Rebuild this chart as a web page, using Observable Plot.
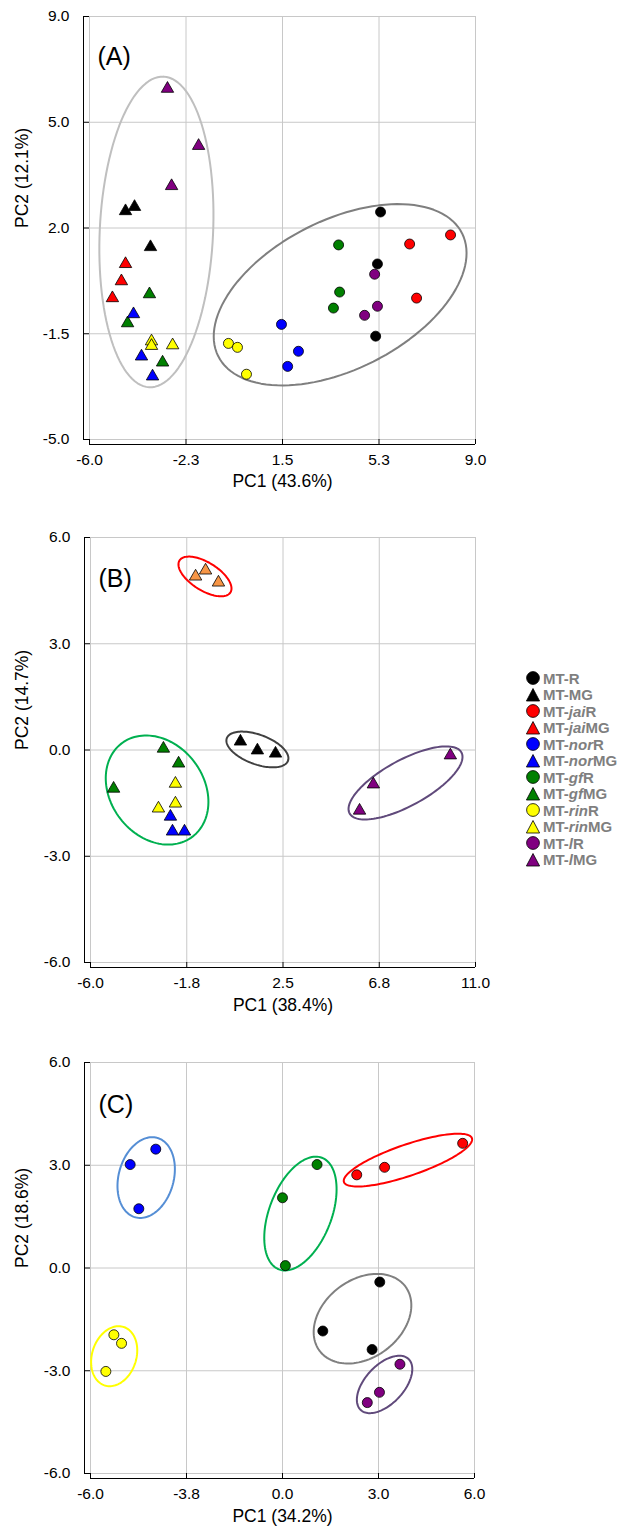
<!DOCTYPE html>
<html><head><meta charset="utf-8">
<script src="https://cdn.jsdelivr.net/npm/d3@7"></script>
<script src="https://cdn.jsdelivr.net/npm/@observablehq/plot@0.6"></script>
<style>
body{margin:0;background:#fff;}
#wrap{position:relative;width:619px;height:1532px;overflow:hidden;background:#fff;font-family:"Liberation Sans",Arial,sans-serif;}
.panel{position:absolute;left:0;}
.row{position:absolute;left:526px;height:16px;display:flex;align-items:center;font:bold 15px "Liberation Sans",Arial,sans-serif;color:#7f7f7f;white-space:nowrap;}
.row svg{margin-right:3px;flex:none;}
</style></head><body><div id="wrap"></div>
<script>
// ---------- legend ----------
const legendItalic = ["", "", "jai", "jai", "nor", "nor", "gf", "gf", "rin", "rin", "l", "l"];
const legendSuffix = ["R", "MG", "R", "MG", "R", "MG", "R", "MG", "R", "MG", "R", "MG"];
const legendShape = ["circle", "triangle", "circle", "triangle", "circle", "triangle", "circle", "triangle", "circle", "triangle", "circle", "triangle"];
const legendColor = ["#000000", "#000000", "#ff0000", "#ff0000", "#0000ff", "#0000ff", "#008000", "#008000", "#ffff00", "#ffff00", "#800080", "#800080"];

// ---------- panel A ----------
const aXTicks = [-6, -2.25, 1.5, 5.25, 9];
const aXLabels = ["-6.0", "-2.3", "1.5", "5.3", "9.0"];
const aYTicks = [-5, -1.5, 2, 5.5, 9];
const aYLabels = ["-5.0", "-1.5", "2.0", "5.0", "9.0"];
const aShape = ["triangle","triangle","triangle","triangle","triangle","triangle","triangle","triangle","triangle","triangle","triangle","triangle","triangle","triangle","triangle","triangle","triangle","triangle",
  "circle","circle","circle","circle","circle","circle","circle","circle","circle","circle","circle","circle","circle","circle","circle","circle","circle","circle"];
const aColor = ["#000000","#000000","#000000","#800080","#800080","#800080","#ff0000","#ff0000","#ff0000","#008000","#008000","#008000","#0000ff","#0000ff","#0000ff","#ffff00","#ffff00","#ffff00",
  "#000000","#000000","#000000","#ff0000","#ff0000","#ff0000","#008000","#008000","#008000","#800080","#800080","#800080","#0000ff","#0000ff","#0000ff","#ffff00","#ffff00","#ffff00"];
const aPC1 = [-4.60,-4.25,-3.63, -2.97,-1.76,-2.81, -4.60,-4.76,-5.11, -3.67,-4.52,-3.16, -4.29,-3.98,-3.55, -3.59,-3.59,-2.77,
  5.31,5.19,5.12, 8.03,6.44,6.71, 3.68,3.72,3.48, 5.08,5.19,4.69, 1.46,2.12,1.70, -0.60,-0.25,0.10];
const aPC2 = [2.56,2.70,1.37, 6.61,4.72,3.39, 0.81,0.24,-0.32, -0.19,-1.15,-2.45, -0.85,-2.25,-2.91, -1.75,-1.90,-1.88,
  2.53,0.81,-1.58, 1.77,1.47,-0.32, 1.44,-0.12,-0.65, 0.47,-0.59,-0.89, -1.19,-2.08,-2.58, -1.82,-1.95,-2.84];
// ellipses: centre, first and second conjugate semi-axis vectors (data units)
const aEllCx = [-3.40, 3.74];
const aEllCy = [1.87, -0.21];
const aEllU = [[0.28, 5.14], [4.74, 2.03]];
const aEllV = [[2.20, -0.09], [1.29, -2.21]];
const aEllColor = ["#bfbfbf", "#7f7f7f"];

// ---------- panel B ----------
const bXTicks = [-6, -1.75, 2.5, 6.75, 11];
const bXLabels = ["-6.0", "-1.8", "2.5", "6.8", "11.0"];
const bYTicks = [-6, -3, 0, 3, 6];
const bYLabels = ["-6.0", "-3.0", "0.0", "3.0", "6.0"];
const bColor = ["#f79646","#f79646","#f79646","#000000","#000000","#000000","#800080","#800080","#800080","#008000","#008000","#008000","#ffff00","#ffff00","#ffff00","#0000ff","#0000ff","#0000ff"];
const bPC1 = [-1.36,-0.92,-0.35, 0.62,1.37,2.17, 9.89,6.49,5.88, -2.78,-2.11,-4.98, -2.25,-2.25,-3.00, -2.47,-2.38,-1.85];
const bPC2 = [4.90,5.07,4.73, 0.24,-0.01,-0.10, -0.15,-0.97,-1.71, 0.04,-0.38,-1.09, -0.95,-1.51,-1.65, -1.88,-2.30,-2.30];
const bEllCx = [-0.945, 1.37, 7.91, -3.06];
const bEllCy = [4.90, 0.015, -0.93, -1.13];
const bEllU = [[1.125, -0.45], [1.35, -0.32], [2.47, 0.86], [1.58, -1.31]];
const bEllV = [[0.325, 0.335], [0.23, 0.39], [0.48, -0.57], [1.625, 0.81]];
const bEllColor = ["#ff0000", "#404040", "#604a7b", "#00b050"];

// ---------- panel C ----------
const cXTicks = [-6, -3, 0, 3, 6];
const cXLabels = ["-6.0", "-3.8", "0.0", "3.0", "6.0"];
const cYTicks = [-6, -3, 0, 3, 6];
const cYLabels = ["-6.0", "-3.0", "0.0", "3.0", "6.0"];
const cColor = ["#0000ff","#0000ff","#0000ff","#008000","#008000","#008000","#ff0000","#ff0000","#ff0000","#000000","#000000","#000000","#800080","#800080","#800080","#ffff00","#ffff00","#ffff00"];
const cPC1 = [-4.76,-3.96,-4.49, 1.08,0.00,0.09, 2.32,3.19,5.63, 3.04,1.26,2.80, 3.67,3.03,2.65, -5.27,-5.03,-5.52];
const cPC2 = [3.02,3.47,1.73, 3.02,2.05,0.07, 2.72,2.94,3.64, -0.41,-1.84,-2.38, -2.81,-3.63,-3.93, -1.95,-2.20,-3.02];
const cEllCx = [-4.26, 0.56, 3.92, 2.50, 3.19, -5.26];
const cEllCy = [2.64, 1.59, 3.15, -1.48, -3.40, -2.575];
const cEllU = [[0.34, 1.16], [0.67, 1.63], [2.0, 0.64], [1.34, 0.94], [0.74, 0.75], [0.29, 0.855]];
const cEllV = [[0.83, -0.21], [0.91, -0.32], [0.16, -0.43], [0.73, -0.91], [0.45, -0.375], [0.66, -0.19]];
const cEllColor = ["#558ed5", "#00b050", "#ff0000", "#808080", "#604a7b", "#ffff00"];

function ellipsePoints(cx, cy, U, V, colors) {
  const out = [];
  cx.forEach((c, i) => {
    for (let k = 0; k <= 120; k++) {
      const t = k / 120 * 2 * Math.PI;
      out.push({id: i, color: colors[i],
        x: c + U[i][0] * Math.cos(t) + V[i][0] * Math.sin(t),
        y: cy[i] + U[i][1] * Math.cos(t) + V[i][1] * Math.sin(t)});
    }
  });
  return out;
}

function panel(o) {
  const xf = new Map(o.xTicks.map((t, i) => [t, o.xLabels[i]]));
  const yf = new Map(o.yTicks.map((t, i) => [t, o.yLabels[i]]));
  const pts = o.pc1.map((x, i) => ({x, y: o.pc2[i], color: o.color[i], shape: o.shape[i]}));
  const ell = ellipsePoints(o.cx, o.cy, o.U, o.V, o.ecol);
  const xmin = o.xTicks[0], ymin = o.yTicks[0];
  const svg = Plot.plot({
    width: 619, height: o.height,
    marginTop: o.mt, marginBottom: o.height - o.fb, marginLeft: o.ml, marginRight: 619 - o.fr,
    x: {domain: [o.xTicks[0], o.xTicks[o.xTicks.length - 1]]},
    y: {domain: [o.yTicks[0], o.yTicks[o.yTicks.length - 1]]},
    color: {type: "identity"},
    style: {fontFamily: "'Liberation Sans', Arial, sans-serif", fontSize: "15.5px", color: "#000", background: "#fff", overflow: "visible"},
    marks: [
      Plot.gridX(o.xTicks, {stroke: "#c8c8c8", strokeOpacity: 1}),
      Plot.gridY(o.yTicks, {stroke: "#c8c8c8", strokeOpacity: 1}),
      Plot.line(ell, {x: "x", y: "y", z: "id", stroke: "color", strokeWidth: 2}),
      Plot.dot(pts.filter(d => d.shape === "circle"), {x: "x", y: "y", r: 5, fill: "color", stroke: "#000", strokeWidth: 0.8}),
      Plot.dot(pts.filter(d => d.shape === "triangle"), {x: "x", y: "y", r: 4.6, symbol: "triangle", fill: "color", stroke: "#000", strokeWidth: 0.8}),
      Plot.ruleX([xmin], {dx: -6, stroke: "#000"}),
      Plot.ruleY([ymin], {dy: 5, stroke: "#000"}),
      Plot.axisX(o.xTicks, {tickSize: 5, tickPadding: 9, tickFormat: d => xf.get(d), label: null, fontSize: 15.5}),
      Plot.axisY(o.yTicks, {tickSize: 6, tickPadding: 14, tickFormat: d => yf.get(d), label: null, fontSize: 15.5}),
      Plot.text([o.xTitle], {frameAnchor: "bottom", dy: o.xtdy, fontSize: 17.5}),
      Plot.text([o.yTitle], {frameAnchor: "left", dx: -(o.ml - 22), rotate: -90, fontSize: 17.5}),
      Plot.text([o.letter], {frameAnchor: "top-left", dx: 8, dy: o.ldy, fontSize: 25, textAnchor: "start"})
    ]
  });
  svg.classList.add("panel");
  svg.style.top = o.top + "px";
  return svg;
}

const wrap = document.getElementById("wrap");
wrap.appendChild(panel({top: 0, height: 503, mt: 16, fb: 439, ml: 89, fr: 475,
  xTicks: aXTicks, xLabels: aXLabels, yTicks: aYTicks, yLabels: aYLabels,
  pc1: aPC1, pc2: aPC2, color: aColor, shape: aShape,
  cx: aEllCx, cy: aEllCy, U: aEllU, V: aEllV, ecol: aEllColor,
  xTitle: "PC1 (43.6%)", yTitle: "PC2 (12.1%)", letter: "(A)", xtdy: 47, ldy: 31}));
wrap.appendChild(panel({top: 500, height: 522, mt: 37, fb: 462, ml: 90, fr: 475,
  xTicks: bXTicks, xLabels: bXLabels, yTicks: bYTicks, yLabels: bYLabels,
  pc1: bPC1, pc2: bPC2, color: bColor, shape: bPC1.map(() => "triangle"),
  cx: bEllCx, cy: bEllCy, U: bEllU, V: bEllV, ecol: bEllColor,
  xTitle: "PC1 (38.4%)", yTitle: "PC2 (14.7%)", letter: "(B)", xtdy: 48, ldy: 32}));
wrap.appendChild(panel({top: 1022, height: 510, mt: 40, fb: 451, ml: 90, fr: 474,
  xTicks: cXTicks, xLabels: cXLabels, yTicks: cYTicks, yLabels: cYLabels,
  pc1: cPC1, pc2: cPC2, color: cColor, shape: cPC1.map(() => "circle"),
  cx: cEllCx, cy: cEllCy, U: cEllU, V: cEllV, ecol: cEllColor,
  xTitle: "PC1 (34.2%)", yTitle: "PC2 (18.6%)", letter: "(C)", xtdy: 48.5, ldy: 33}));

// legend rows
legendSuffix.forEach((suf, i) => {
  const row = document.createElement("div");
  row.className = "row";
  row.style.top = (678.3 + i * 16.5 - 8) + "px";
  const marker = legendShape[i] === "circle"
    ? `<circle cx="7" cy="7" r="6.4" fill="${legendColor[i]}" stroke="#000" stroke-width="0.8"/>`
    : `<polygon points="7,0.5 13.6,13 0.4,13" fill="${legendColor[i]}" stroke="#000" stroke-width="0.8"/>`;
  row.innerHTML = `<svg width="14" height="14" viewBox="0 0 14 14">${marker}</svg><span>MT-${legendItalic[i] ? "<i>" + legendItalic[i] + "</i>" : ""}${suf}</span>`;
  wrap.appendChild(row);
});
</script>
</body></html>
